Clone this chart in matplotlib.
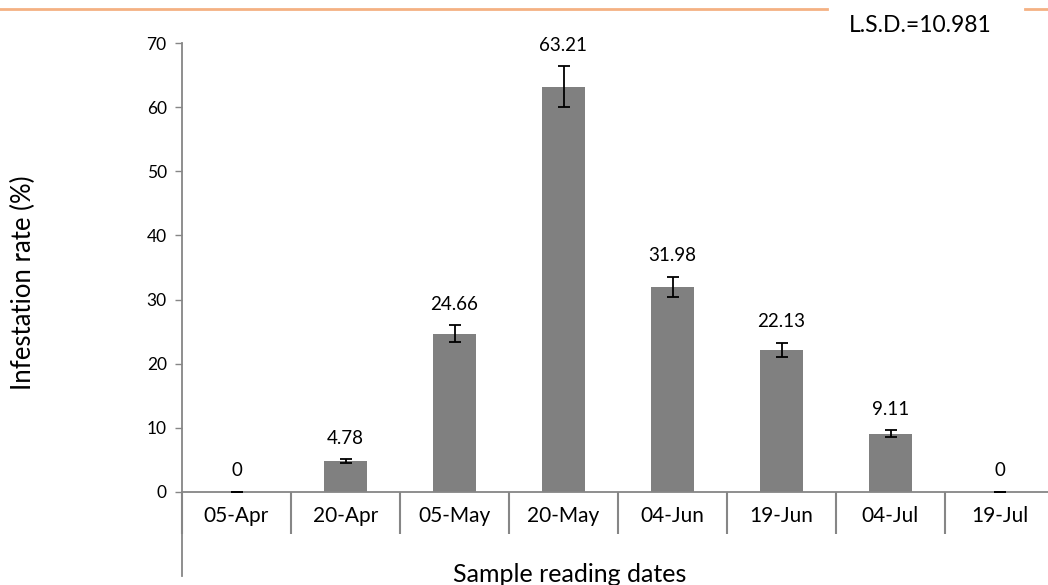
import matplotlib
matplotlib.use("Agg")
import matplotlib.pyplot as plt
from matplotlib.lines import Line2D

dates = ["05-Apr", "20-Apr", "05-May", "20-May", "04-Jun", "19-Jun", "04-Jul", "19-Jul"]
rate = [0, 4.78, 24.66, 63.21, 31.98, 22.13, 9.11, 0]
err = [0, 0.3, 1.3, 3.2, 1.6, 1.1, 0.5, 0]
lsd = "L.S.D.=10.981"

plt.rcParams["font.family"] = ["Lato", "DejaVu Sans"]
GRAY = "#868686"

fig = plt.figure(figsize=(10.48, 5.85), dpi=100)
ax = fig.add_axes([182/1048, 1-492/585, 872/1048, (492-43)/585])

x = list(range(len(dates)))
ax.bar(x, rate, width=0.4, color="#808080", zorder=2)
ax.errorbar(x, rate, yerr=err, fmt="none", ecolor="black", elinewidth=1.3,
            capsize=4.3, capthick=1.3, zorder=3)
for xi, v, e in zip(x, rate, err):
    ax.annotate(f"{v:g}", (xi, v + e), xytext=(0, 9), textcoords="offset points",
                ha="center", va="bottom", fontsize=13.5)

ax.set_xlim(-0.5, len(dates) - 0.5)
ax.set_ylim(0, 70)
ax.set_yticks(range(0, 71, 10))
ax.tick_params(axis="y", direction="out", length=5, width=1, color=GRAY, labelsize=12.5, pad=6)

# category dividers (major ticks) and labels (minor ticks)
ax.set_xticks([i - 0.5 for i in range(len(dates) + 1)])
ax.set_xticklabels([])
ax.tick_params(axis="x", which="major", direction="out", length=30, width=1.5, color=GRAY)
ax.set_xticks(x, minor=True)
ax.set_xticklabels(dates, minor=True)
ax.tick_params(axis="x", which="minor", length=0, labelsize=15, pad=10)

for s in ["top", "right"]:
    ax.spines[s].set_visible(False)
for s in ["left", "bottom"]:
    ax.spines[s].set_color(GRAY)
    ax.spines[s].set_linewidth(1.3)
# left axis line continues down through the category area
ax.add_line(Line2D([0, 0], [0, -(576-492)/449], transform=ax.transAxes,
                   color=GRAY, lw=1.3, clip_on=False))

ax.set_ylabel("Infestation rate (%)", fontsize=18.5)
ax.yaxis.set_label_coords(-(182-36)/872, (492-283)/449)
fig.text(570/1048, 1-574/585, "Sample reading dates", ha="center", va="center", fontsize=18)
fig.text(920/1048, 1-25/585, lsd, ha="center", va="center", fontsize=16.5)

# page rule at the top
fig.add_artist(Line2D([0, 827/1048], [1-9/585]*2, color="#F4B183", lw=2))
fig.add_artist(Line2D([1025/1048, 1], [1-9/585]*2, color="#F4B183", lw=2))

fig.savefig("out.png", dpi=100)
